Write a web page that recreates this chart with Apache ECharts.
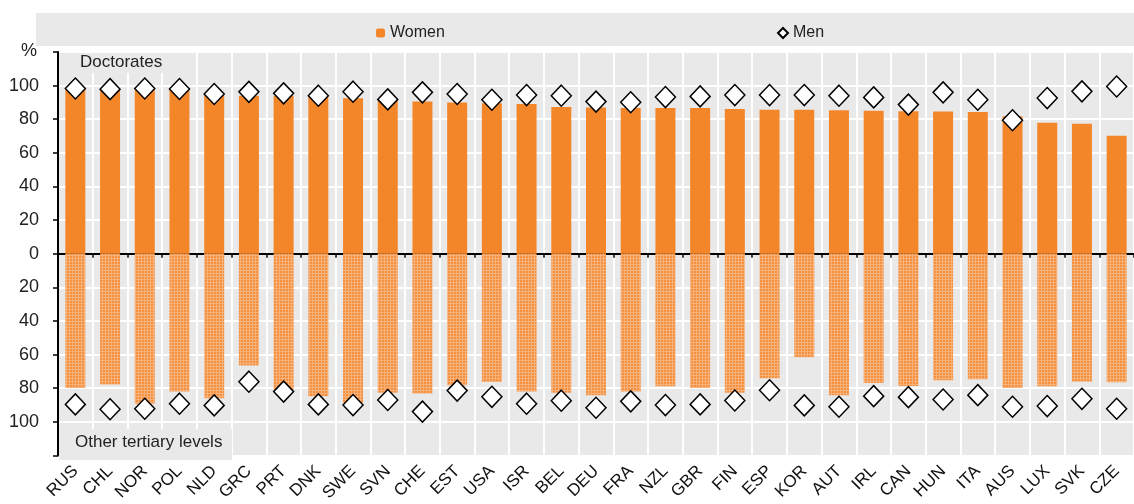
<!DOCTYPE html>
<html>
	<head>
		<meta charset="UTF-8">
		<title></title>
		<style>
			html, body { margin: 0; padding: 0; background: #fff; }
			#chart { width: 1134px; height: 504px; }
		</style>
	</head>
	<body>
		<div id="chart"></div>

		<script src="https://cdn.jsdelivr.net/npm/echarts@6/dist/echarts.min.js"></script>
		<script>
			// 国家
			var countries = ['RUS','CHL','NOR','POL','NLD','GRC','PRT','DNK','SWE','SVN','CHE','EST','USA','ISR','BEL','DEU','FRA','NZL','GBR','FIN','ESP','KOR','AUT','IRL','CAN','HUN','ITA','AUS','LUX','SVK','CZE'];
			// Doctorates
			var womenDoc = [98, 97.5, 98.3, 97.5, 94.8, 94, 94, 94, 92.5, 91.5, 90.5, 90, 89.5, 89, 87.3, 87, 86.7, 86.7, 86.7, 86.1, 85.7, 85.6, 85.4, 85.1, 84.7, 84.6, 84.3, 81.8, 77.9, 77.3, 70.2];
			var menDoc = [98.3, 97.9, 98.3, 98, 95, 96.3, 95.4, 94, 96.4, 91.8, 96, 95, 91.6, 94.4, 94, 90.5, 90.1, 93.2, 93.6, 94.4, 94.4, 94.4, 94, 93, 88.7, 96, 91.6, 79.4, 92.6, 96.6, 99.5];
			// Other tertiary levels
			var womenOther = [79.8, 77.8, 89.2, 82, 85.9, 66.5, 80.6, 84.7, 88.6, 82.7, 83.1, 78.2, 76.3, 82, 82.7, 84.1, 82, 78.8, 79.8, 82.7, 74.1, 61.6, 84.1, 76.9, 78.6, 75.3, 74.7, 79.8, 78.8, 76.1, 76.5];
			var menOther = [89.6, 92.5, 92.2, 89.2, 90.2, 76.1, 82, 89.6, 90, 87, 93.9, 81.4, 85.1, 89.2, 87.4, 91.6, 87.8, 90, 89.6, 87.3, 81.2, 90.2, 91, 84.7, 85.3, 86.7, 84.1, 91, 90.6, 86.3, 92.2];
			// y轴刻度
			var yTicks = [0, 20, 40, 60, 80, 100];

			var font = "'Liberation Sans', Arial, sans-serif";
			var orange = '#f4862a';
			var gray = '#e9e9e9';

			// 下半部分的网点纹理
			var pc = document.createElement('canvas');
			pc.width = 3; pc.height = 3;
			var ctx = pc.getContext('2d');
			ctx.fillStyle = '#f4903e';
			ctx.fillRect(0, 0, 3, 3);
			ctx.fillStyle = '#f7b27c';
			ctx.fillRect(0, 0, 3, 1);
			ctx.fillRect(0, 0, 1, 3);

			var neg = function (arr) {
				return arr.map(function (v) { return -v; });
			};

			var myChart = echarts.init(document.getElementById('chart'));

			var option = {
				animation: false,
				textStyle: { fontFamily: font },
				legend: [{
					data: ['Women'],
					left: 371,
					top: 20,
					itemWidth: 9,
					itemHeight: 9,
					itemGap: 6,
					textStyle: { fontSize: 16, color: '#222', fontFamily: font }
				}, {
					data: ['Men'],
					left: 772,
					top: 20,
					itemWidth: 10,
					itemHeight: 10,
					textStyle: { fontSize: 16, color: '#222', fontFamily: font }
				}],
				grid: {
					left: 58,
					right: 0,
					top: 52,
					bottom: 44,
					show: true,
					backgroundColor: gray,
					borderWidth: 0
				},
				graphic: [
					{ type: 'rect', z: -10, shape: { x: 36, y: 13, width: 1098, height: 33 }, style: { fill: gray } },
					{ type: 'rect', z: 1, shape: { x: 59, y: 53, width: 126, height: 20 }, style: { fill: gray } },
					{ type: 'rect', z: 1, shape: { x: 59, y: 429, width: 173, height: 31 }, style: { fill: gray } },
					{ type: 'text', z: 5, left: 80, top: 54, style: { text: 'Doctorates', fontSize: 17, fill: '#222', fontFamily: font } },
					{ type: 'text', z: 5, left: 75, top: 434, style: { text: 'Other tertiary levels', fontSize: 17, fill: '#222', fontFamily: font } },
					{ type: 'text', z: 5, left: 21, top: 42, style: { text: '%', fontSize: 18, fill: '#222', fontFamily: font } }
				],
				xAxis: [{
					type: 'category',
					data: countries,
					position: 'bottom',
					axisLine: { show: false, onZero: false },
					axisTick: { show: false },
					axisLabel: {
						rotate: 45,
						margin: 13,
						fontSize: 17,
						color: '#111',
						fontFamily: font,
						interval: 0
					},
					splitLine: { show: true, interval: 0, lineStyle: { color: '#fff', width: 2 } }
				}, {
					// 0 处的横线
					type: 'category',
					data: countries,
					axisLine: { show: true, onZero: true, lineStyle: { color: '#000', width: 2 } },
					axisTick: { show: true, inside: true, length: 4, interval: 0, lineStyle: { color: '#000', width: 1.5 } },
					axisLabel: { show: false },
					splitLine: { show: false }
				}],
				yAxis: {
					type: 'value',
					min: -120,
					max: 120,
					interval: 20,
					axisLine: { show: true, lineStyle: { color: '#000', width: 2 } },
					axisTick: { show: true, length: 5, lineStyle: { color: '#000', width: 1.5 } },
					axisLabel: {
						margin: 19,
						fontSize: 18,
						color: '#222',
						fontFamily: font,
						formatter: function (v) {
							var a = Math.abs(v);
							return yTicks.indexOf(a) >= 0 ? String(a) : '';
						}
					},
					splitLine: { show: true, lineStyle: { color: '#fff', width: 2 } }
				},
				series: [{
					name: 'Women',
					type: 'bar',
					stack: 'w',
					barWidth: 20,
					itemStyle: { color: orange },
					data: womenDoc
				}, {
					name: 'Women',
					type: 'bar',
					stack: 'w',
					barWidth: 20,
					itemStyle: { color: { image: pc, repeat: 'repeat' } },
					data: neg(womenOther)
				}, {
					name: 'Men',
					type: 'scatter',
					symbol: 'diamond',
					symbolSize: [20, 21],
					z: 5,
					itemStyle: { color: '#fff', borderColor: '#000', borderWidth: 1.5, opacity: 1 },
					data: menDoc
				}, {
					name: 'Men',
					type: 'scatter',
					symbol: 'diamond',
					symbolSize: [20, 21],
					z: 5,
					itemStyle: { color: '#fff', borderColor: '#000', borderWidth: 1.5, opacity: 1 },
					data: neg(menOther)
				}]
			};

			myChart.setOption(option);
		</script>
	</body>
</html>
